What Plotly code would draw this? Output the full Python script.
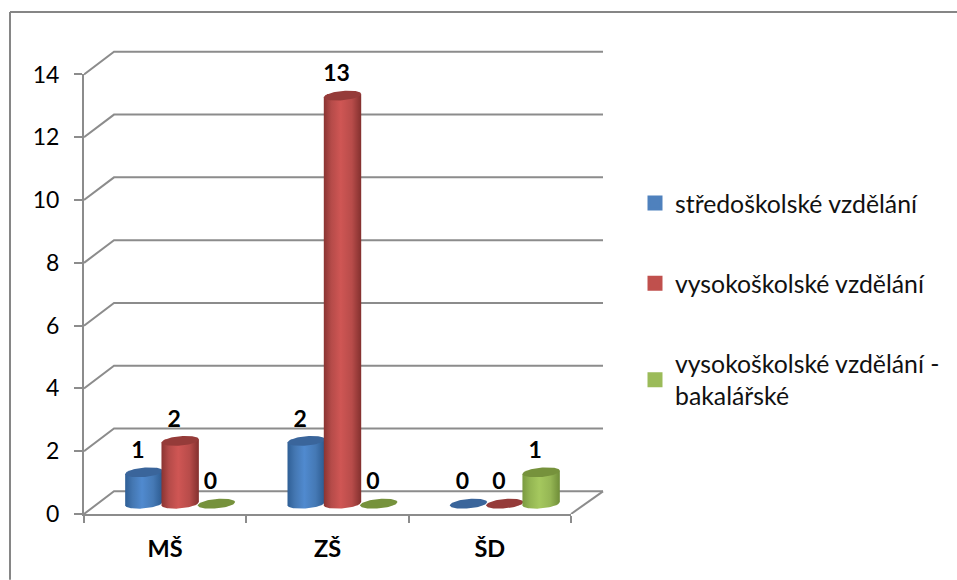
import numpy as np
import plotly.graph_objects as go

categories = ["MŠ", "ZŠ", "ŠD"]
series_names = ["středoškolské vzdělání", "vysokoškolské vzdělání", "vysokoškolské vzdělání -<br>bakalářské"]
stredo = [1, 2, 0]
vysoko = [2, 13, 0]
bakal = [0, 0, 1]
y_ticks = [0, 2, 4, 6, 8, 10, 12, 14]

W, H = 957, 580
L, R, T, B = 84, 571, 74.5, 514.3
OUT_R, OUT_T = 612, 40          # outer plotting box that also holds the 3D walls
ux = (R - L) / 3
uy = (B - T) / 14
GRID = "#8c8c8c"
FONT = "Lato"

dx_back, dy_back = 30 / ux, 22.7 / uy
x_back_end = (603 - L) / ux
cx_depth, cy_depth = 15 / ux, 10.3 / uy
spacing = 36.3 / ux
r = 18.7 / ux
ry = 4.7 / uy
tilt = 1.6 / uy

values = [stredo, vysoko, bakal]
legend_col = ["#4F81BD", "#C0504D", "#9BBB59"]
top_col = ["#3A659B", "#953B39", "#76923C"]
grads = [
    [[0, "#2F5F96"], [0.2, "#4477B2"], [0.45, "#508ACF"], [0.75, "#4579B5"], [1, "#2C5A8F"]],
    [[0, "#8A3432"], [0.2, "#B54B49"], [0.45, "#CF5654"], [0.75, "#B84C4A"], [1, "#83302E"]],
    [[0, "#7A9A40"], [0.2, "#93B552"], [0.45, "#A5C85E"], [0.75, "#95B654"], [1, "#6F8D38"]],
]

fig = go.Figure()

gx, gy = [], []
for v in y_ticks:
    gx += [0, dx_back, x_back_end, None]
    gy += [v, v + dy_back, v + dy_back, None]
gx += [3, x_back_end]
gy += [0, dy_back]
fig.add_trace(go.Scatter(x=gx, y=gy, xaxis="x2", yaxis="y2", mode="lines", line=dict(color=GRID, width=2),
                         showlegend=False, hoverinfo="skip"))

theta_low = np.linspace(np.pi, 2 * np.pi, 40)
theta_all = np.linspace(0, 2 * np.pi, 80)
for s, vals in enumerate(values):
    centers = [i + 0.5 + cx_depth + (s - 1) * spacing for i in range(3)]
    fig.add_trace(go.Bar(x=centers, y=vals, base=[cy_depth] * 3, width=1.5 * r, name=series_names[s],
                         legendgroup=f"s{s}", marker=dict(color=legend_col[s], line=dict(color=legend_col[s], width=3)),
                         cliponaxis=False, hoverinfo="skip"))
    for c, v in zip(centers, vals):
        if v > 0:
            xl = c + r * np.cos(theta_low)
            yl = cy_depth + ry * np.sin(theta_low) + tilt * np.cos(theta_low)
            xu = xl[::-1]
            yu = (v + cy_depth + tilt * np.cos(theta_low))[::-1]
            fig.add_trace(go.Scatter(x=np.r_[xl, xu], y=np.r_[yl, yu], xaxis="x2", yaxis="y2", mode="lines",
                                     line=dict(width=0), fill="toself",
                                     fillgradient=dict(type="horizontal", colorscale=grads[s]),
                                     showlegend=False, hoverinfo="skip"))
        fig.add_trace(go.Scatter(x=c + r * np.cos(theta_all),
                                 y=v + cy_depth + ry * np.sin(theta_all) + tilt * np.cos(theta_all),
                                 xaxis="x2", yaxis="y2",
                                 mode="lines", line=dict(width=0), fill="toself", fillcolor=top_col[s],
                                 showlegend=False, hoverinfo="skip"))
    fig.add_trace(go.Scatter(x=[c - 6 / ux for c in centers], y=[v + cy_depth + 20 / uy for v in vals],
                             mode="text", text=[str(v) for v in vals],
                             textfont=dict(family=FONT, size=23, color="#000000", weight="bold"),
                             textposition="middle center", cliponaxis=False, showlegend=False, hoverinfo="skip"))

fx = lambda p: (p - L) / (OUT_R - L)
fy = lambda p: (B - p) / (B - OUT_T)
shapes = [
    dict(type="line", xref="paper", yref="paper", x0=fx(10), x1=fx(10), y0=fy(12), y1=fy(580), line=dict(color="#868686", width=2)),
    dict(type="line", xref="paper", yref="paper", x0=fx(10), x1=fx(957), y0=fy(12), y1=fy(12), line=dict(color="#868686", width=2)),
]

fig.update_layout(
    width=W, height=H, paper_bgcolor="#FFFFFF", plot_bgcolor="rgba(0,0,0,0)",
    margin=dict(l=L, r=W - OUT_R, t=OUT_T, b=H - B, autoexpand=False),
    barmode="overlay", shapes=shapes,
    font=dict(family=FONT, color="#000000"),
    xaxis=dict(domain=[0, fx(R)], range=[0, 3], tickvals=[0.5, 1.5, 2.5], ticktext=categories, showgrid=False, zeroline=False,
               showline=True, linecolor=GRID, linewidth=2, ticks="", ticklabelstandoff=13,
               tickfont=dict(family=FONT, size=23.5, color="#000000", weight="bold"),
               minor=dict(tick0=0, dtick=1, ticks="outside", ticklen=7, tickcolor=GRID, tickwidth=2)),
    yaxis=dict(domain=[0, fy(T)], range=[0, 14], tickvals=y_ticks, showgrid=False, zeroline=False,
               showline=True, linecolor=GRID, linewidth=2, ticks="outside", ticklen=8, tickcolor=GRID, tickwidth=2,
               ticklabelstandoff=10, tickfont=dict(family=FONT, size=23, color="#000000")),
    xaxis2=dict(domain=[0, 1], range=[0, (OUT_R - L) / ux], anchor="y2", visible=False),
    yaxis2=dict(domain=[0, 1], range=[0, (B - OUT_T) / uy], anchor="x2", visible=False),
    legend=dict(x=(635 - L) / (OUT_R - L), y=fy(180.5), xanchor="left", yanchor="top", bgcolor="rgba(0,0,0,0)",
                font=dict(family=FONT, size=24.8, color="#111111"), tracegroupgap=45, itemclick=False,
                itemdoubleclick=False),
)
fig.write_html("out.html", config={"displayModeBar": False}, post_script="document.body.style.margin='0';")
